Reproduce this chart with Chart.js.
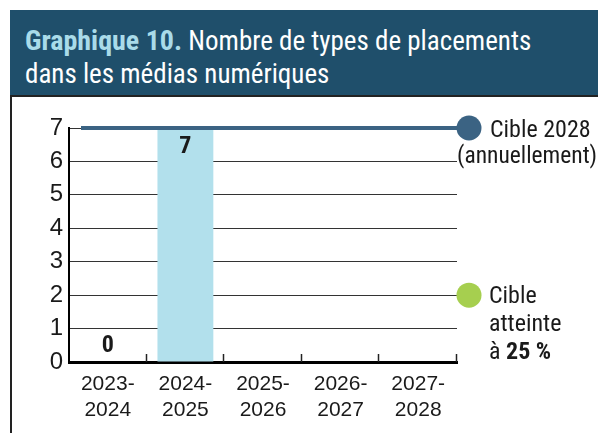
<!DOCTYPE html>
<html>
<head>
<meta charset="utf-8">
<script src="https://cdn.jsdelivr.net/npm/chart.js@4.4.1/dist/chart.umd.min.js"></script>
<style>
  body { margin: 0; width: 598px; height: 433px; overflow: hidden; background: #fff; position: relative; }
  #head {
    position: absolute; left: 10px; top: 10px; width: 588px; height: 85px;
    background: #1f4f6b; color: #fff; box-sizing: border-box; padding: 14px 0 0 15px;
    font-family: "Liberation Sans Narrow", "Roboto Condensed", Roboto, sans-serif;
    font-size: 27px; line-height: 33px;
  }
  #head b { color: #a9dbe9; font-size: 28px; }
  #box {
    position: absolute; left: 10px; top: 95px; width: 588px; height: 338px;
    border-left: 2px solid #222; border-top: 2px solid #222; box-sizing: border-box;
  }
  #wrap { position: absolute; left: 0; top: 0; width: 598px; height: 433px; }
</style>
</head>
<body>
<div id="head"><b>Graphique 10.</b> Nombre de types de placements<br>dans les médias numériques</div>
<div id="box"></div>
<div id="wrap"><canvas id="myChart" width="598" height="433"></canvas></div>
<script>
const categories = [["2023-", "2024"], ["2024-", "2025"], ["2025-", "2026"], ["2026-", "2027"], ["2027-", "2028"]];
const values = [0, 7, null, null, null];
const yMin = 0;
const yMax = 7;
const targetValue = 7;
const reachedValue = 2;
const targetText = ["Cible 2028", "(annuellement)"];
const reachedText = ["Cible", "atteinte", "à "];
const reachedPct = "25 %";

const narrow = '"Liberation Sans Narrow", "Roboto Condensed", Roboto, sans-serif';

const extras = {
  id: "extras",
  afterDraw(chart) {
    const { ctx, chartArea } = chart;
    const x = chart.scales.x;
    const y = chart.scales.y;
    const half = (x.getPixelForValue(1) - x.getPixelForValue(0)) / 2;
    ctx.save();

    // small separators on the x axis
    ctx.strokeStyle = "#222";
    ctx.lineWidth = 1.5;
    categories.forEach((c, i) => {
      const px = Math.round(x.getPixelForValue(i) + half) - 0.5;
      ctx.beginPath();
      ctx.moveTo(px, chartArea.bottom - 8);
      ctx.lineTo(px, chartArea.bottom);
      ctx.stroke();
    });

    // target line
    const dotX = chartArea.right + 12;
    const ty = y.getPixelForValue(targetValue);
    ctx.strokeStyle = "#3b6383";
    ctx.lineWidth = 4;
    ctx.beginPath();
    ctx.moveTo(chartArea.left + 12, ty);
    ctx.lineTo(dotX, ty);
    ctx.stroke();
    ctx.fillStyle = "#3b6383";
    ctx.beginPath();
    ctx.arc(dotX, ty, 12.5, 0, Math.PI * 2);
    ctx.fill();

    // reached marker
    const ry = y.getPixelForValue(reachedValue);
    ctx.strokeStyle = "#555";
    ctx.lineWidth = 1;
    ctx.beginPath();
    ctx.moveTo(chartArea.right, Math.round(ry) + 0.5);
    ctx.lineTo(dotX, Math.round(ry) + 0.5);
    ctx.stroke();
    ctx.fillStyle = "#a6cf4f";
    ctx.beginPath();
    ctx.arc(dotX, ry, 12.5, 0, Math.PI * 2);
    ctx.fill();

    // annotation texts
    ctx.fillStyle = "#1a1a1a";
    ctx.textAlign = "left";
    ctx.textBaseline = "alphabetic";
    ctx.font = "24px " + narrow;
    ctx.fillText(targetText[0], dotX + 21, ty + 9);
    ctx.font = "23.5px " + narrow;
    ctx.fillText(targetText[1], chartArea.right, ty + 35);
    ctx.font = "24px " + narrow;
    ctx.fillText(reachedText[0], dotX + 20, ry + 8);
    ctx.fillText(reachedText[1], dotX + 20, ry + 36);
    ctx.fillText(reachedText[2], dotX + 20, ry + 64);
    const w = ctx.measureText(reachedText[2]).width;
    ctx.font = "bold 24px " + narrow;
    ctx.fillText(reachedPct, dotX + 20 + w, ry + 64);

    // value labels
    const meta = chart.getDatasetMeta(0);
    ctx.font = "bold 24px " + narrow;
    ctx.textAlign = "center";
    ctx.textBaseline = "middle";
    meta.data.forEach((bar, i) => {
      const v = values[i];
      if (v === null) return;
      if (v === 0) ctx.fillText(String(v), bar.x, bar.y - 16);
      else ctx.fillText(String(v), bar.x, bar.y + 19);
    });
    ctx.restore();
  },
};

new Chart(document.getElementById("myChart"), {
  type: "bar",
  data: {
    labels: categories,
    datasets: [
      {
        data: values,
        backgroundColor: "#b2e0ec",
        barPercentage: 0.72,
        categoryPercentage: 1,
      },
    ],
  },
  options: {
    responsive: false,
    animation: false,
    layout: { padding: { left: 10, top: 128, right: 141, bottom: 0 } },
    plugins: { legend: { display: false }, tooltip: { enabled: false } },
    scales: {
      x: {
        grid: { display: false, drawTicks: false },
        border: { color: "#000", width: 3 },
        ticks: { color: "#1a1a1a", padding: 9, font: { family: "Liberation Sans, Arial, sans-serif", size: 21, lineHeight: 1.25 } },
        afterFit: (s) => { s.height = 71; },
      },
      y: {
        min: yMin,
        max: yMax,
        ticks: { stepSize: 1, color: "#1a1a1a", padding: 6, font: { family: "Liberation Sans, Arial, sans-serif", size: 24 } },
        grid: { color: "#333", lineWidth: 1, drawTicks: false },
        border: { color: "#000", width: 2 },
        afterFit: (s) => { s.width = 59; },
      },
    },
  },
  plugins: [extras],
});
</script>
</body>
</html>
